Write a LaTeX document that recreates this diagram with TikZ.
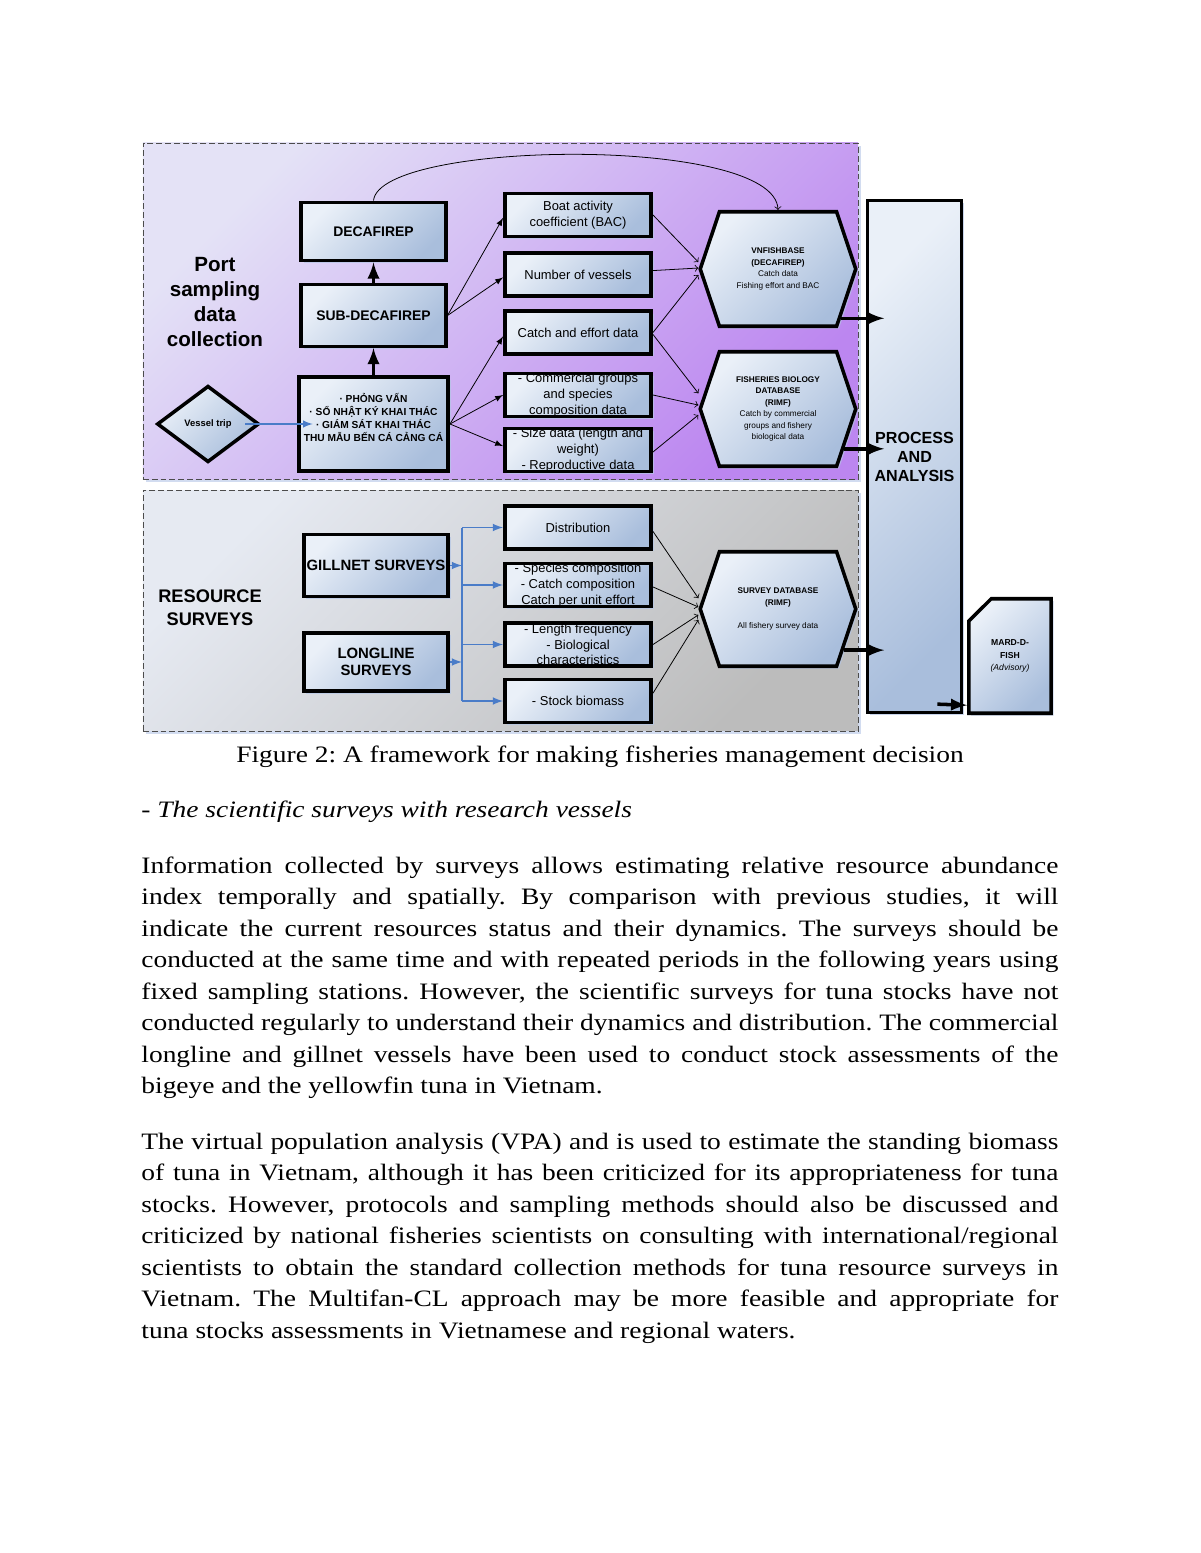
\documentclass[tikz,border=0pt]{standalone}
\usepackage{fontspec}
\setmainfont{Liberation Serif}[FakeStretch=1.167]
\setsansfont{Liberation Sans}
\usetikzlibrary{arrows, calc, shapes.geometric, shapes.symbols, shapes.misc, shadows}
\hyphenpenalty=10000
\exhyphenpenalty=10000
\frenchspacing

\definecolor{boxlight}{HTML}{EAF0F8}
\definecolor{boxdark}{HTML}{A9BEDC}
\definecolor{portlight}{HTML}{E4E2F6}
\definecolor{portdark}{HTML}{BC86F0}
\definecolor{surveylight}{HTML}{E6EAF2}
\definecolor{surveydark}{HTML}{BCBCBC}
\definecolor{linkblue}{HTML}{4A7CC8}
\definecolor{shadowblue}{HTML}{B4C6E6}

\tikzstyle{port_panel} = [
    rectangle,
    draw=black!70,
    dash pattern=on 3pt off 1.5pt,
    left color=portlight,
    right color=portdark,
    shading angle=45,
    drop shadow={shadow xshift=1.5pt, shadow yshift=-1.5pt, fill=shadowblue, opacity=.6}
]
\tikzstyle{survey_panel} = [
    rectangle,
    draw=black!70,
    dash pattern=on 3pt off 1.5pt,
    left color=surveylight,
    right color=surveydark,
    shading angle=45,
    drop shadow={shadow xshift=1.5pt, shadow yshift=-1.5pt, fill=shadowblue, opacity=.6}
]
\tikzstyle{panel_title} = [
    align=center,
    inner sep=0pt,
    font=\sffamily\bfseries
]
\tikzstyle{sans_box} = [
    rectangle,
    draw=black,
    line width=1.8pt,
    left color=boxlight,
    right color=boxdark,
    shading angle=45,
    align=center,
    inner sep=0pt,
    drop shadow={shadow xshift=1.2pt, shadow yshift=-1.2pt, fill=shadowblue, opacity=.7}
]
\tikzstyle{head_box} = [
    sans_box,
    minimum width=73.7pt,
    minimum height=30.5pt,
    font=\sffamily\bfseries\fontsize{7.1}{8.8}\selectfont
]
\tikzstyle{data_box} = [
    sans_box,
    minimum width=74.7pt,
    minimum height=21.7pt,
    font=\sffamily\fontsize{6.6}{8}\selectfont
]
\tikzstyle{database} = [
    signal,
    signal to=west and east,
    signal pointer angle=143,
    draw=black,
    line width=1.8pt,
    left color=boxlight,
    right color=boxdark,
    shading angle=45,
    align=center,
    inner sep=0pt,
    minimum width=79.3pt,
    minimum height=58.4pt,
    font=\sffamily\fontsize{4.2}{5.8}\selectfont,
    drop shadow={shadow xshift=1.2pt, shadow yshift=-1.2pt, fill=shadowblue, opacity=.7}
]
\tikzstyle{feed_arrow} = [-latex, thin]
\tikzstyle{store_arrow} = [->, thin]
\tikzstyle{heavy_arrow} = [-latex, line width=1.8pt]
\tikzstyle{blue_line} = [draw=linkblue, line width=0.8pt]
\tikzstyle{blue_arrow} = [-latex, draw=linkblue, line width=0.8pt]
\tikzstyle{body_text} = [
    anchor=base west,
    inner sep=0pt,
    text width=467.7pt,
    align=justify,
    font=\fontsize{12}{16.1}\selectfont
]

\begin{document}
\begin{tikzpicture}[x=0.51pt, y=-0.51pt]
\useasboundingbox (0,0) rectangle (1200,1553);
\fill[white] (0,0) rectangle (1200,1553);

% the two panels
\node[port_panel, minimum width=364.7pt, minimum height=171.4pt] (port) at (500.5,311) {};
\node[survey_panel, minimum width=364.7pt, minimum height=122.9pt] (resource) at (500.5,610.5) {};
\node[panel_title, font=\sffamily\bfseries\fontsize{10.5}{12.9}\selectfont] (portlabel) at (215,302) {Port\\sampling\\data\\collection};
\node[panel_title, font=\sffamily\bfseries\fontsize{9.3}{11.7}\selectfont] (resourcelabel) at (210,608) {RESOURCE\\SURVEYS};

% port sampling chain
\node[head_box, minimum height=29.8pt] (decafirep) at (373.5,231.5) {DECAFIREP};
\node[head_box, minimum height=31.4pt] (subdeca) at (373.5,315.5) {SUB-DECAFIREP};
\node[sans_box, minimum width=76.2pt, minimum height=47.7pt,
      font=\sffamily\bfseries\fontsize{5.2}{6.6}\selectfont] (interview) at (373.5,424)
      {· PHỎNG VẤN\\· SỔ NHẬT KÝ KHAI THÁC\\· GIÁM SÁT KHAI THÁC\\THU MẪU BẾN CÁ CẢNG CÁ\\\mbox{}};
\node[diamond, draw=black, line width=1.8pt, left color=boxlight, right color=boxdark, shading angle=45,
      inner sep=0pt, minimum width=52pt, minimum height=39pt,
      font=\sffamily\bfseries\fontsize{4.8}{5.5}\selectfont] (trip) at (208,424) {Vessel trip};

\node[data_box] (boat) at (578,215) {Boat activity\\coefficient (BAC)};
\node[data_box] (number) at (578,274.5) {Number of vessels};
\node[data_box] (catch) at (578,332.5) {Catch and effort data};
\node[data_box] (commercial) at (578,395) {- Commercial groups\\and species\\composition data};
\node[data_box] (size) at (578,450) {- Size data (length and\\weight)\\- Reproductive data};

\node[database] (vnfish) at (778,269) {\textbf{VNFISHBASE}\\\textbf{(DECAFIREP)}\\Catch data\\Fishing effort and BAC};
\node[database] (biology) at (778,409) {\textbf{FISHERIES BIOLOGY}\\\textbf{DATABASE}\\\textbf{(RIMF)}\\Catch by commercial\\groups and fishery\\biological data};

% resource surveys
\node[head_box, minimum height=31.4pt, font=\sffamily\bfseries\fontsize{7.6}{8.8}\selectfont] (gillnet) at (376,565.5) {GILLNET SURVEYS};
\node[head_box, minimum height=29.8pt, font=\sffamily\bfseries\fontsize{7.6}{8.8}\selectfont] (longline) at (376,662) {LONGLINE\\SURVEYS};

\node[data_box] (distribution) at (578,527.5) {Distribution};
\node[data_box] (species) at (578,585) {- Species composition\\- Catch composition\\Catch per unit effort};
\node[data_box] (length) at (578,644.5) {- Length frequency\\- Biological\\characteristics};
\node[data_box] (stock) at (578,701) {- Stock biomass};

\node[database] (surveydb) at (778,609) {\textbf{SURVEY DATABASE}\\\textbf{(RIMF)}\\\mbox{}\\All fishery survey data};

% process and advice
\node[sans_box, line width=1.6pt, minimum width=47.7pt, minimum height=261pt,
      font=\sffamily\bfseries\fontsize{8.2}{9.7}\selectfont] (process) at (914.5,456.5) {PROCESS\\AND\\ANALYSIS};
\node[sans_box, chamfered rectangle, chamfered rectangle corners=north west, chamfered rectangle xsep=10.5pt,
      minimum width=42pt, minimum height=58.4pt,
      font=\sffamily\fontsize{4.4}{6.4}\selectfont] (mard) at (1010,656) {\textbf{MARD-D-}\\\textbf{FISH}\\\textit{(Advisory)}};

% connectors
\draw[heavy_arrow] (interview.north) -- (subdeca.south);
\draw[heavy_arrow] (subdeca.north) -- (decafirep.south);
\draw[-latex, draw=linkblue, line width=0.7pt] ([xshift=-8pt]trip.east) -- ([xshift=8pt]interview.west);

\draw[feed_arrow] (subdeca.east) -- ([yshift=-1.5pt]boat.west);
\draw[feed_arrow] (subdeca.east) -- ([yshift=-1.5pt]number.west);
\draw[feed_arrow] (interview.east) -- ([yshift=-2pt]catch.west);
\draw[feed_arrow] (interview.east) -- (commercial.west);
\draw[feed_arrow] (interview.east) -- ([yshift=2pt]size.west);

\draw[store_arrow] (boat.east) -- ([yshift=3.5pt]vnfish.west);
\draw[store_arrow] ([yshift=2pt]number.east) -- ([yshift=0.5pt]vnfish.west);
\draw[store_arrow] (catch.east) -- ([yshift=-3pt]vnfish.west);
\draw[store_arrow] ([yshift=-1pt]catch.east) -- ([yshift=8pt]biology.west);
\draw[store_arrow] (commercial.east) -- ([yshift=2pt]biology.west);
\draw[store_arrow] ([yshift=-1pt]size.east) -- ([yshift=-3pt]biology.west);

\draw[store_arrow] ([yshift=-2pt]distribution.east) -- ([yshift=5.5pt]surveydb.west);
\draw[store_arrow] ([yshift=-1pt]species.east) -- ([yshift=1pt]surveydb.west);
\draw[store_arrow] (length.east) -- ([yshift=-3pt]surveydb.west);
\draw[store_arrow] ([yshift=4pt]stock.east) -- ([yshift=-5.5pt]surveydb.west);

\draw[store_arrow] (decafirep.north) .. controls (380,140) and (775,135) .. (vnfish.north);

\coordinate (vnout) at (vnfish.-38);
\coordinate (bioout) at (biology.-31);
\coordinate (surveyout) at (surveydb.-32);
\draw[heavy_arrow] (vnout) -- ($(process.west |- vnout)+(18,0)$);
\draw[heavy_arrow] (bioout) -- ($(process.west |- bioout)+(18,0)$);
\draw[heavy_arrow] (surveyout) -- ($(process.west |- surveyout)+(18,0)$);
\draw[heavy_arrow] ([xshift=-13pt,yshift=5pt]process.south east) -- ([yshift=5pt]mard.south west);

\coordinate (bus) at (462,566);
\draw[blue_arrow] (gillnet.east) -- (gillnet.east -| bus);
\draw[blue_arrow] (longline.east) -- (longline.east -| bus);
\draw[blue_line] (distribution.west -| bus) -- (stock.west -| bus);
\foreach \target in {distribution, species, length, stock}
    \draw[blue_arrow] (\target.west -| bus) -- (\target.west);

% caption and text
\node[anchor=base, inner sep=0pt, font=\fontsize{12}{14}\selectfont] (caption) at (600,762)
    {Figure 2: A framework for making fisheries management decision};
\node[anchor=base west, inner sep=0pt, font=\itshape\fontsize{12}{14}\selectfont] (subhead) at (141,817)
    {- The scientific surveys with research vessels};
\node[body_text] (para1) at (141,873) {Information collected by surveys allows estimating relative resource abundance\linebreak
index temporally and spatially. By comparison with previous studies, it will\linebreak
indicate the current resources status and their dynamics. The surveys should be\linebreak
conducted at the same time and with repeated periods in the following years using\linebreak
fixed sampling stations. However, the scientific surveys for tuna stocks have not\linebreak
conducted regularly to understand their dynamics and distribution. The commercial\linebreak
longline and gillnet vessels have been used to conduct stock assessments of the\linebreak
bigeye and the yellowfin tuna in Vietnam.};
\node[body_text] (para2) at (141,1149) {The virtual population analysis (VPA) and is used to estimate the standing biomass\linebreak
of tuna in Vietnam, although it has been criticized for its appropriateness for tuna\linebreak
stocks. However, protocols and sampling methods should also be discussed and\linebreak
criticized by national fisheries scientists on consulting with international/regional\linebreak
scientists to obtain the standard collection methods for tuna resource surveys in\linebreak
Vietnam. The Multifan-CL approach may be more feasible and appropriate for\linebreak
tuna stocks assessments in Vietnamese and regional waters.};
\end{tikzpicture}
\end{document}
